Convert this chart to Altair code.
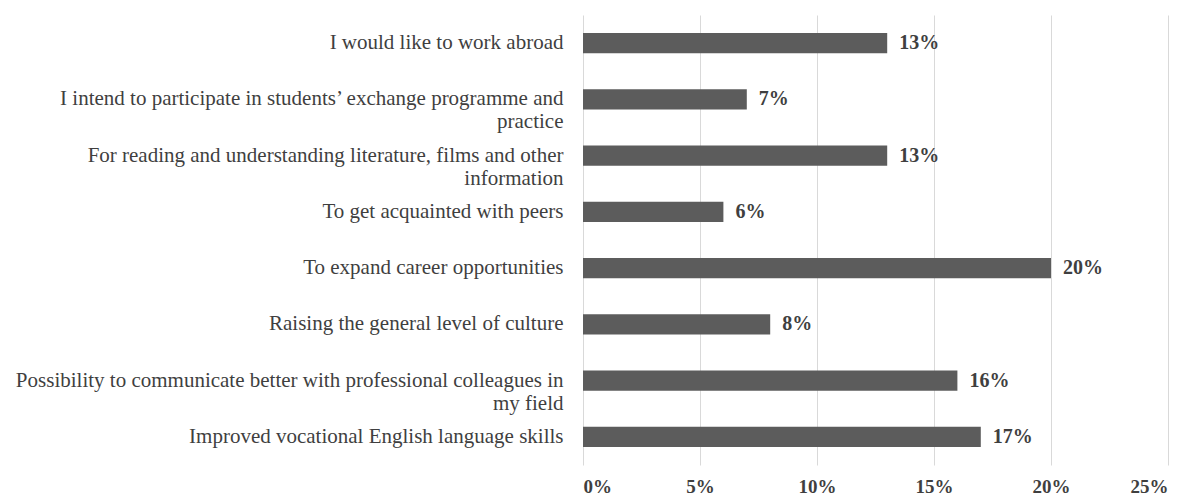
import altair as alt
import pandas as pd

categories = [
    "I would like to work abroad",
    "I intend to participate  in students\u2019 exchange programme and\npractice",
    "For reading  and understanding  literature,  films  and other\ninformation",
    "To get acquainted with peers",
    "To expand career opportunities",
    "Raising the general level of culture",
    "Possibility to communicate  better with professional colleagues  in\nmy field",
    "Improved vocational  English language skills",
]
values = [0.13, 0.07, 0.13, 0.06, 0.20, 0.08, 0.16, 0.17]
x_ticks = [0, 0.05, 0.10, 0.15, 0.20, 0.25]

df = pd.DataFrame({"cat": categories, "val": values})

FONT = "Liberation Serif"
TEXT = "#3f3f3f"

y_enc = alt.Y(
    "cat:N",
    sort=categories,
    title=None,
    scale=alt.Scale(paddingInner=0.64, paddingOuter=0.32),
    axis=alt.Axis(
        domain=False,
        ticks=False,
        grid=False,
        labelFont=FONT,
        labelFontSize=21,
        labelColor=TEXT,
        labelPadding=20,
        labelLimit=700,
        labelLineHeight=23,
        labelExpr="split(datum.label, '\\n')",
    ),
)

x_enc = alt.X(
    "val:Q",
    title=None,
    scale=alt.Scale(domain=[0, 0.25], nice=False),
    axis=alt.Axis(
        values=x_ticks,
        format=".0%",
        domain=False,
        ticks=False,
        grid=True,
        gridColor="#d9d9d9",
        gridWidth=1,
        labelFont=FONT,
        labelFontSize=19,
        labelFontWeight="bold",
        labelColor=TEXT,
        labelPadding=12,
    ),
)

bars = alt.Chart(df).mark_bar(color="#5c5c5c").encode(x=x_enc, y=y_enc)

labels = alt.Chart(df).mark_text(
    align="left",
    baseline="middle",
    dx=12,
    font=FONT,
    fontSize=20,
    fontWeight="bold",
    color=TEXT,
).encode(
    x=alt.X("val:Q"),
    y=alt.Y("cat:N", sort=categories),
    text=alt.Text("val:Q", format=".0%"),
)

chart = (
    alt.layer(bars, labels)
    .properties(
        width=585,
        height=450,
        autosize=alt.AutoSizeParams(type="none"),
        padding={"left": 575, "top": 7, "right": 10, "bottom": 30},
        background="white",
    )
    .configure_view(stroke=None)
)

chart.save("out.html", embed_options={"renderer": "svg", "actions": False})
